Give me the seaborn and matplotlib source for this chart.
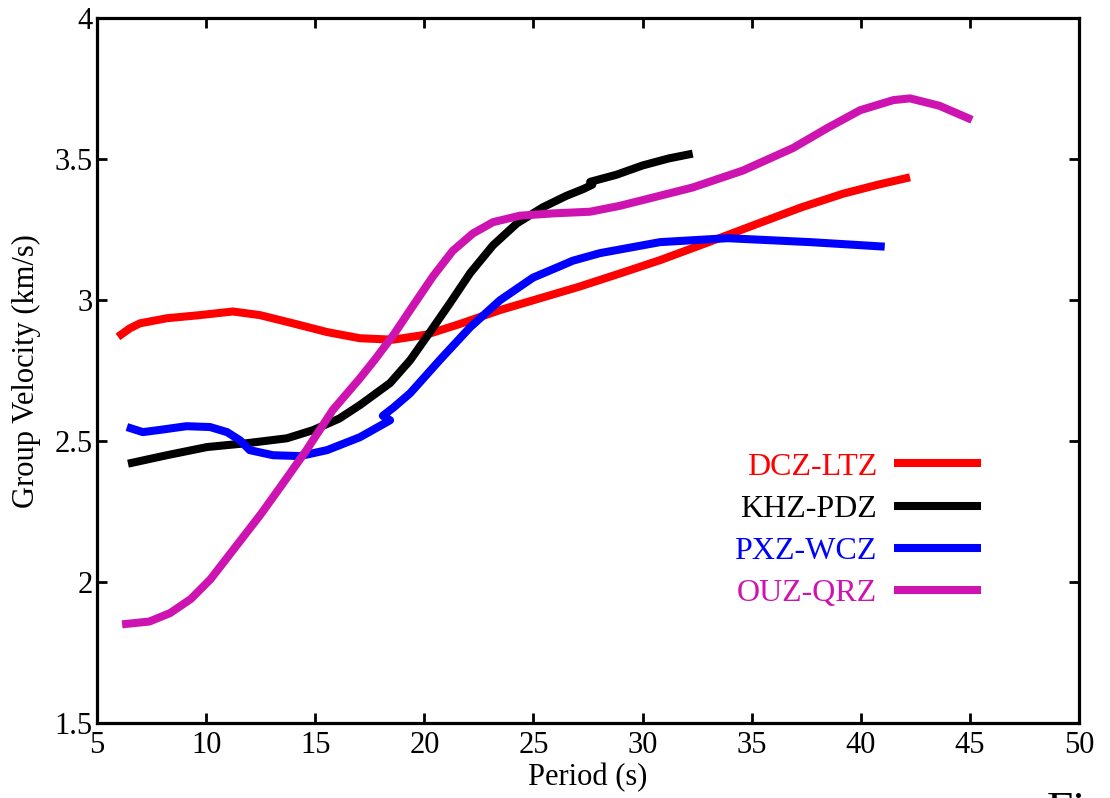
import numpy as np
import pandas as pd
import matplotlib
matplotlib.use("Agg")
import matplotlib.pyplot as plt
from matplotlib.lines import Line2D
import seaborn as sns

# ---- data ----
names = ["DCZ-LTZ", "KHZ-PDZ", "PXZ-WCZ", "OUZ-QRZ"]
colors = ["#FF0000", "#000000", "#0000FF", "#CD14B1"]

dcz_period = [5.96, 6.5, 6.97, 8.2, 9.7, 11.23, 12.47, 13.98, 15.54, 17.05, 18.57, 20.1, 21.6, 23.47, 25.44, 27.1, 28.97, 30.8, 33.0, 35.4, 37.3, 39.2, 40.8, 42.26]
dcz_vel    = [2.87, 2.90, 2.918, 2.936, 2.947, 2.96, 2.947, 2.918, 2.887, 2.865, 2.86, 2.878, 2.915, 2.965, 3.01, 3.048, 3.095, 3.142, 3.205, 3.275, 3.33, 3.378, 3.41, 3.436]

khz_period = [6.42, 8.2, 10.04, 11.9, 13.7, 14.9, 16.1, 17.05, 18.43, 19.35, 20.26, 21.18, 22.1, 23.15, 24.25, 25.44, 26.5, 27.3, 27.7, 27.6, 28.8, 30.0, 31.2, 32.3]
khz_vel    = [2.42, 2.45, 2.479, 2.493, 2.51, 2.539, 2.58, 2.628, 2.706, 2.787, 2.887, 2.99, 3.096, 3.195, 3.273, 3.33, 3.37, 3.395, 3.41, 3.42, 3.445, 3.478, 3.503, 3.52]

pxz_period = [6.37, 7.1, 7.9, 9.1, 10.18, 10.96, 11.55, 12.0, 13.07, 14.3, 15.54, 17.05, 18.43, 18.1, 18.6, 19.35, 20.7, 22.1, 23.47, 24.98, 26.2, 26.8, 28.05, 30.8, 33.9, 37.7, 41.1]
pxz_vel    = [2.55, 2.532, 2.54, 2.553, 2.55, 2.532, 2.503, 2.468, 2.45, 2.447, 2.468, 2.514, 2.574, 2.59, 2.62, 2.67, 2.787, 2.904, 3.0, 3.08, 3.12, 3.14, 3.167, 3.206, 3.22, 3.206, 3.19]

ouz_period = [6.15, 7.4, 8.35, 9.3, 10.2, 11.1, 12.5, 13.4, 14.6, 15.8, 17.05, 17.74, 18.57, 19.48, 20.4, 21.3, 22.23, 23.15, 24.39, 25.9, 27.6, 28.97, 30.0, 32.3, 34.6, 36.9, 38.45, 39.97, 41.5, 42.26, 43.6, 45.1]
ouz_vel    = [1.85, 1.86, 1.89, 1.94, 2.01, 2.10, 2.24, 2.337, 2.468, 2.61, 2.723, 2.79, 2.875, 2.98, 3.085, 3.175, 3.237, 3.277, 3.30, 3.308, 3.314, 3.335, 3.355, 3.40, 3.46, 3.54, 3.61, 3.674, 3.71, 3.716, 3.69, 3.64]

x_ticks = [5, 10, 15, 20, 25, 30, 35, 40, 45, 50]
y_ticks = [1.5, 2, 2.5, 3, 3.5, 4]
x_label = "Period (s)"
y_label = "Group Velocity (km/s)"

periods = [dcz_period, khz_period, pxz_period, ouz_period]
vels = [dcz_vel, khz_vel, pxz_vel, ouz_vel]

frames = []
for n, p, v in zip(names, periods, vels):
    frames.append(pd.DataFrame({"Period": p, "Velocity": v, "Pair": n}))
df = pd.concat(frames, ignore_index=True)

# ---- style ----
sns.set_style("ticks")
plt.rcParams["font.family"] = ["Liberation Serif", "DejaVu Serif"]
plt.rcParams["text.color"] = "black"
plt.rcParams["axes.labelcolor"] = "black"
plt.rcParams["xtick.color"] = "black"
plt.rcParams["ytick.color"] = "black"

fig = plt.figure(figsize=(11.10, 7.98), dpi=100)
ax = fig.add_axes([0.0874, 0.094, 0.8846, 0.883])

sns.lineplot(data=df, x="Period", y="Velocity", hue="Pair", hue_order=names,
             palette=colors, sort=False, estimator=None, units="Pair",
             linewidth=5.8, ax=ax, legend=False)
for ln in ax.get_lines():
    ln.set_solid_joinstyle("round")
    ln.set_solid_capstyle("butt")

handles = [Line2D([0], [0], color=c, lw=5.8, solid_capstyle="butt") for c in colors]
leg = ax.legend(handles, names, loc="upper left", bbox_to_anchor=(0.62, 0.425),
                frameon=False, markerfirst=False, handlelength=2.7,
                handletextpad=0.55, labelspacing=0.40, fontsize=23)
for t, c in zip(leg.get_texts(), colors):
    t.set_color(c)
    t.set_ha("right")

ax.set_xlim(5, 50)
ax.set_ylim(1.5, 4)
ax.set_xticks(x_ticks)
ax.set_yticks(y_ticks)
ax.set_xticklabels([str(t) for t in x_ticks])
ax.set_yticklabels([("%g" % t) for t in y_ticks])
ax.tick_params(direction="in", length=7, width=2, labelsize=22, top=True, right=True,
               colors="black", pad=3)
ax.tick_params(axis="x", pad=6)
for s in ax.spines.values():
    s.set_linewidth(2.3)
    s.set_color("black")
ax.set_xlabel(x_label, fontsize=22, labelpad=2, color="black")
ax.set_ylabel(y_label, fontsize=22, labelpad=10, color="black")

fig.text(0.943, -0.045, "Fig", fontsize=34, ha="left", va="bottom", color="black")

fig.savefig("out.png", dpi=100, facecolor="white")
